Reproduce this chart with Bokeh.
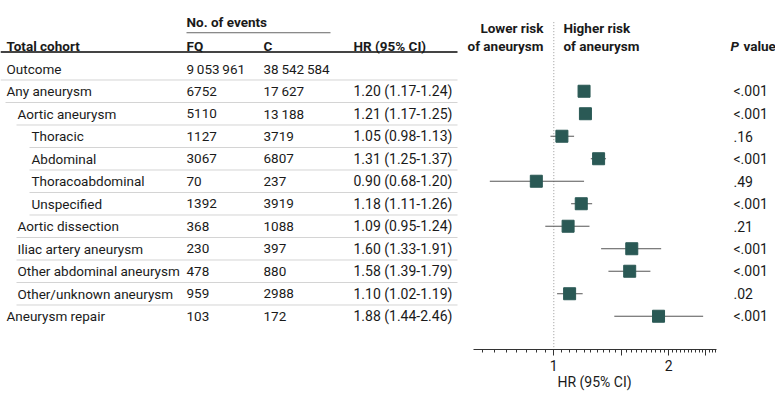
import numpy as np
from bokeh.plotting import figure
from bokeh.layouts import column
from bokeh.models import ColumnDataSource, Range1d, LogScale, LogAxis, FixedTicker
from bokeh.core.properties import value
from bokeh.embed import file_html
from bokeh.resources import INLINE

# ---------------- data ----------------
labels = ["Outcome", "Any aneurysm", "Aortic aneurysm", "Thoracic", "Abdominal",
          "Thoracoabdominal", "Unspecified", "Aortic dissection", "Iliac artery aneurysm",
          "Other abdominal aneurysm", "Other/unknown aneurysm", "Aneurysm repair"]
levels = [0, 0, 1, 2, 2, 2, 2, 1, 1, 1, 1, 0]
fq_events = ["9\u2009053\u2009961", "6752", "5110", "1127", "3067", "70", "1392", "368",
             "230", "478", "959", "103"]
c_events = ["38\u2009542\u2009584", "17\u2009627", "13\u2009188", "3719", "6807", "237", "3919",
            "1088", "397", "880", "2988", "172"]
hr = [1.20, 1.21, 1.05, 1.31, 0.90, 1.18, 1.09, 1.60, 1.58, 1.10, 1.88]
hr_low = [1.17, 1.17, 0.98, 1.25, 0.68, 1.11, 0.95, 1.33, 1.39, 1.02, 1.44]
hr_high = [1.24, 1.25, 1.13, 1.37, 1.20, 1.26, 1.24, 1.91, 1.79, 1.19, 2.46]
p_values = ["<.001", "<.001", ".16", "<.001", ".49", "<.001", ".21", "<.001", "<.001", ".02", "<.001"]
major_ticks = [1, 1.5, 2, 2.5]
tick_labels = {1.5: "", 2.5: ""}
minor_ticks = [round(0.65 + 0.05 * i, 2) for i in range(41)]
axis_title = "HR (95% CI)"

# ---------------- style ----------------
FONT = value("Roboto")
FS = "13.5px"
NUMFS = "14px"
TXT = "#1a1a1a"
SQ = "#2a5955"

n = len(labels)
rows = list(range(n))
indent_x = {0: 6, 1: 17, 2: 31}
line_x = {0: 5, 1: 16, 2: 29}

p = figure(frame_width=775, frame_height=349, min_border=0,
           x_range=Range1d(0, 775), y_range=Range1d(12.478, -3.033),
           x_axis_location=None, y_axis_location=None,
           toolbar_location=None, output_backend="svg")
p.outline_line_color = None
p.grid.visible = False
p.extra_x_ranges = {"hr": Range1d(0.03561, 3.805)}
p.extra_x_scales = {"hr": LogScale()}

# separators
sep_x0 = [0] + [line_x[l] for l in levels[1:-1]]
sep_y = [r + 0.5 for r in rows[:-1]]
p.segment(x0=sep_x0, x1=[457] * len(sep_y), y0=sep_y, y1=sep_y, line_color="#d4d4d4", line_width=1)
# header lines
p.segment(x0=[0], x1=[457], y0=[-0.74], y1=[-0.74], line_color="#444444", line_width=2)
p.segment(x0=[186], x1=[330], y0=[-1.60], y1=[-1.60], line_color="#666666", line_width=1)

# table text
src = ColumnDataSource(dict(
    y=rows, lab=labels, lx=[indent_x[l] for l in levels],
    fq=fq_events, c=c_events,
))
common = dict(text_font=FONT, text_font_size=FS, text_color=TXT, text_baseline="middle", text_align="left")
p.text(x="lx", y="y", text="lab", source=src, **common)
p.text(x=186, y="y", text="fq", source=src, **common)
p.text(x=263, y="y", text="c", source=src, **common)

frows = rows[1:]
hr_txt = [f"{h:.2f} ({l:.2f}-{u:.2f})" for h, l, u in zip(hr, hr_low, hr_high)]
fsrc = ColumnDataSource(dict(y=frows, hr=hr, lo=hr_low, hi=hr_high, txt=hr_txt, pv=p_values))
num = dict(common, text_font_size=NUMFS)
p.text(x=353, y="y", text="txt", source=fsrc, **num)
p.text(x=733, y="y", text="pv", source=fsrc, **num)

# headers
hdr = dict(text_font=FONT, text_font_size=FS, text_color=TXT, text_baseline="middle",
           text_font_style="bold")
p.text(x=[186], y=[-2.07], text=["No. of events"], text_align="left", **hdr)
p.text(x=[6, 186, 263, 353], y=[-1.03] * 4, text=["Total cohort", "FQ", "C", "HR (95% CI)"],
       text_align="left", **hdr)
p.text(x=[543, 543], y=[-1.79, -1.03], text=["Lower risk", "of aneurysm"], text_align="right", **hdr)
p.text(x=[563, 563], y=[-1.79, -1.03], text=["Higher risk", "of aneurysm"], text_align="left", **hdr)
p.text(x=[730], y=[-1.03], text=["P"], text_align="left", text_font=FONT, text_font_size=FS,
       text_color=TXT, text_baseline="middle", text_font_style="bold italic")
p.text(x=[743], y=[-1.03], text=["value"], text_align="left", **hdr)

# forest
p.segment(x0=[1], x1=[1], y0=[-2.07], y1=[12.478], x_range_name="hr",
          line_color="#999999", line_width=1, line_dash="1 2")
p.segment(x0="lo", x1="hi", y0="y", y1="y", source=fsrc, x_range_name="hr",
          line_color="#555555", line_width=1)
p.scatter(x="hr", y="y", source=fsrc, x_range_name="hr", marker="square", size=12,
          fill_color=SQ, line_color=SQ)

ax = LogAxis(x_range_name="hr", ticker=FixedTicker(ticks=major_ticks, minor_ticks=minor_ticks),
             bounds=(0.615, 2.666))
ax.major_label_overrides = tick_labels
ax.axis_line_color = "#333333"
ax.major_tick_line_color = "#333333"
ax.minor_tick_line_color = "#333333"
ax.major_tick_in = 0
ax.major_tick_out = 6
ax.minor_tick_in = 0
ax.minor_tick_out = 3
ax.major_label_standoff = 4
ax.major_label_text_font = "Roboto"
ax.major_label_text_font_size = NUMFS
ax.major_label_text_color = TXT
p.add_layout(ax, "below")

# axis title strip (centred under the axis)
q = figure(frame_width=775, frame_height=20, min_border=0,
           x_range=Range1d(0, 775), y_range=Range1d(20, 0),
           x_axis_location=None, y_axis_location=None,
           toolbar_location=None, output_backend="svg")
q.outline_line_color = None
q.grid.visible = False
q.text(x=[594], y=[8], text=[axis_title], text_align="center", text_baseline="middle",
       text_font=FONT, text_font_size=NUMFS, text_color=TXT)

open("out.html", "w").write(file_html(column(p, q, spacing=0), INLINE))
